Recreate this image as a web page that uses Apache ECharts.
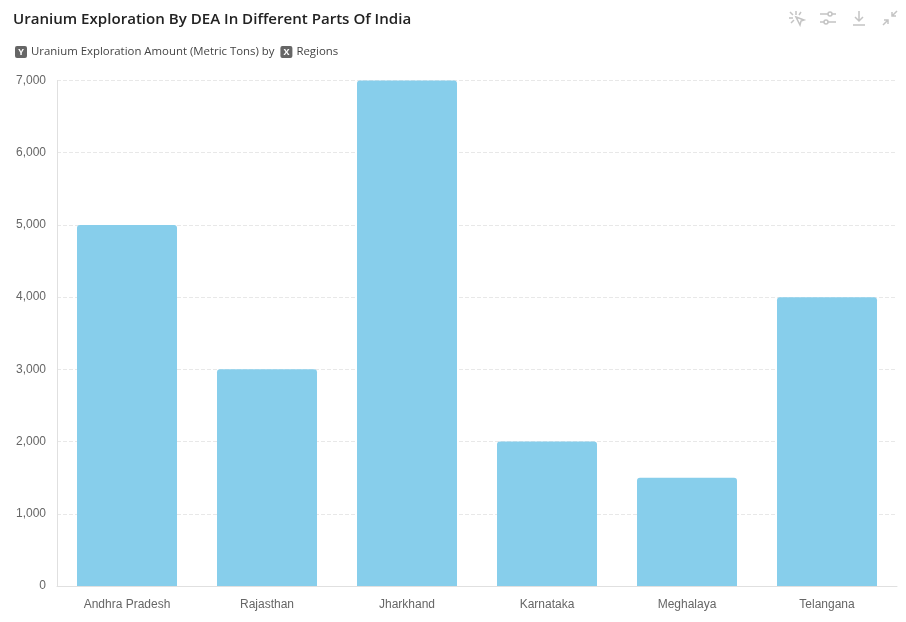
<!DOCTYPE html>
<html>
<head>
<meta charset="utf-8">
<title>Uranium Exploration</title>
<style>
  html, body { margin: 0; padding: 0; background: #fff; }
  #chart { width: 906px; height: 622px; }
  .tools { position: absolute; top: 9px; left: 787px; display: flex; gap: 11px; }
  .tools svg { width: 20px; height: 18px; fill: none; stroke: #c4c4c4; stroke-width: 1.5; }
</style>
<script src="https://cdn.jsdelivr.net/npm/echarts@6/dist/echarts.min.js"></script>
</head>
<body>
<div id="chart"></div>
<div class="tools">
  <svg viewBox="0 0 20 18"><path d="M9 2v4M3 3l3 3M2 9h4M4 14l3-3M14 3l-2 3M9 8l8 3-3 1-1 4z"/></svg>
  <svg viewBox="0 0 20 18"><path d="M2 5h8M14 5h4M2 13h4M10 13h8"/><circle cx="12" cy="5" r="2"/><circle cx="8" cy="13" r="2"/></svg>
  <svg viewBox="0 0 20 18"><path d="M10 2v10M6 8l4 4 4-4M4 16h12"/></svg>
  <svg viewBox="0 0 20 18"><path d="M17 2l-5 5M12 3v4h4M3 16l5-5M8 15v-4H4"/></svg>
</div>
<script>
const regions = ['Andhra Pradesh', 'Rajasthan', 'Jharkhand', 'Karnataka', 'Meghalaya', 'Telangana'];
const amounts = [5000, 3000, 7000, 2000, 1500, 4000];
const titleText = 'Uranium Exploration By DEA In Different Parts Of India';
const yName = 'Uranium Exploration Amount (Metric Tons)';
const xName = 'Regions';

const chart = echarts.init(document.getElementById('chart'));
const badge = {
  backgroundColor: '#666',
  color: '#fff',
  borderRadius: 2,
  width: 12,
  height: 12,
  align: 'center',
  fontSize: 9,
  fontWeight: 'bold',
  fontFamily: 'Open Sans'
};

chart.setOption({
  animation: false,
  title: [
    {
      text: titleText,
      left: 8,
      top: 7,
      textStyle: { fontFamily: 'Open Sans', fontSize: 15.08, fontWeight: 600, color: '#222' }
    },
    {
      text: '{b|Y}{s| }' + yName + ' by  {b|X}{s| }' + xName,
      left: 10,
      top: 41,
      textStyle: {
        fontFamily: 'Open Sans',
        fontSize: 11.4,
        fontWeight: 'normal',
        color: '#444',
        rich: { b: badge, s: { width: 4 } }
      }
    }
  ],
  grid: { left: 57, right: 9, top: 80.5, bottom: 36 },
  xAxis: {
    type: 'category',
    data: regions,
    axisLine: { lineStyle: { color: '#e0e0e0' } },
    axisTick: { show: false },
    axisLabel: { color: '#666', fontSize: 12, fontFamily: 'Liberation Sans', margin: 13 }
  },
  yAxis: {
    type: 'value',
    min: 0,
    max: 7000,
    interval: 1000,
    axisLine: { show: true, lineStyle: { color: '#e0e0e0' } },
    axisTick: { show: false },
    axisLabel: {
      color: '#666',
      fontSize: 12,
      fontFamily: 'Liberation Sans',
      margin: 11,
      padding: [2, 0, 0, 0],
      formatter: (v) => v.toLocaleString('en-US')
    },
    splitLine: { lineStyle: { color: '#e8e8e8', type: 'dashed' } }
  },
  series: [
    {
      type: 'bar',
      data: amounts,
      barWidth: 100,
      itemStyle: { color: '#87ceeb', borderRadius: [3, 3, 0, 0] }
    }
  ]
});
</script>
</body>
</html>
